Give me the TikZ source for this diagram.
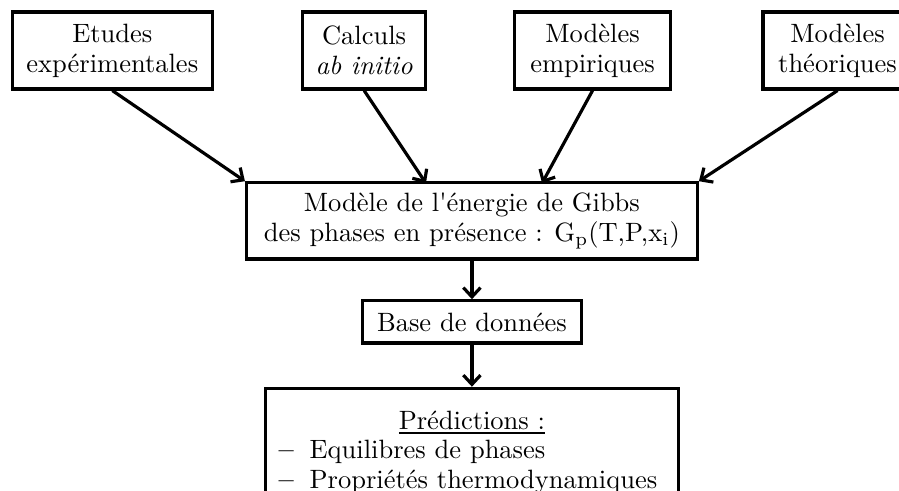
\documentclass[tikz,border=0pt]{standalone}
\usepackage{fontspec}
\usetikzlibrary{arrows.meta}
\begin{document}
\begin{tikzpicture}[boite/.style={draw, line width=1.2pt, align=center, inner xsep=5pt, inner ysep=3pt, font=\fontsize{10}{11.3}\selectfont},
    fleche/.style={line width=1.2pt, -{Straight Barb[length=3.5pt,width=6.5pt]}}]
        \useasboundingbox (0,0) rectangle (11.925,-6.5);
        \node[boite, minimum width=2.65cm, minimum height=1.02cm] (A) at (1.49,-0.67) {Etudes\\expérimentales};
        \node[boite, minimum width=1.62cm, minimum height=1.02cm] (B) at (4.83,-0.67) {Calculs\\\textit{ab initio}};
        \node[boite, minimum width=2.06cm, minimum height=1.02cm] (C) at (7.86,-0.67) {Modèles\\empiriques};
        \node[boite, minimum width=1.98cm, minimum height=1.02cm] (D) at (11.11,-0.67) {Modèles\\théoriques};
        
        \node[boite, minimum width=5.98cm, minimum height=1.01cm] (G) at (6.26,-2.93) {Modèle de l\textquotesingle énergie de Gibbs\\des phases en présence : G\textsubscript{p}(T,P,x\textsubscript{i})};
        \coordinate (g1) at (5.65,-2.43);
        \coordinate (g2) at (7.19,-2.43);
        
        \node[boite, minimum width=2.9cm, minimum height=0.56cm] (H) at (6.26,-4.27) {Base de données};
        \node[boite, anchor=north, align=left, inner xsep=4.9pt, text width=5.13cm, minimum height=1.7cm] (P) at (6.26,-5.13) {\makebox[\linewidth]{\underline{Prédictions :}}\\\textbf{–}\hspace{6pt}Equilibres de phases\\\textbf{–}\hspace{6pt}Propriétés thermodynamiques};
        
        \draw[fleche] (A.south) -- (G.north west);
        \draw[fleche] (B.south) -- (g1);
        \draw[fleche] (C.south) -- (g2);
        \draw[fleche] (D.south) -- (G.north east);
        \draw[fleche] (G) -- (H);
        \draw[fleche] (H) -- (P);
      \end{tikzpicture}
\end{document}
